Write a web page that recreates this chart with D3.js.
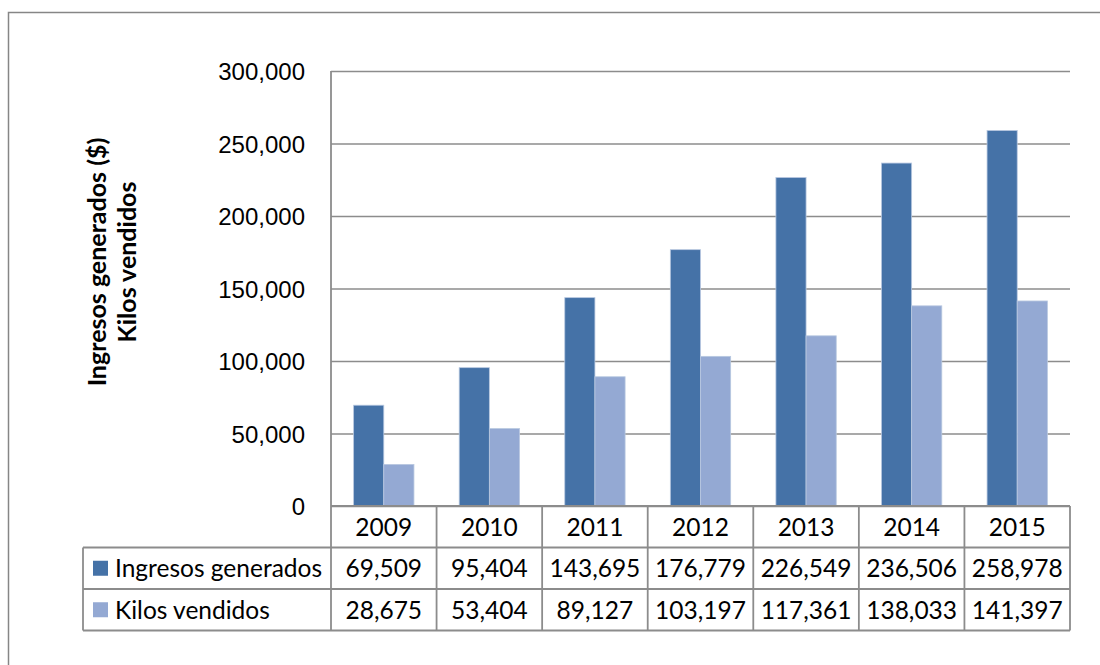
<!DOCTYPE html>
<html>
<head>
<meta charset="utf-8">
<script src="https://cdn.jsdelivr.net/npm/d3@7"></script>
<style>
  body { margin: 0; background: #fff; }
  svg { display: block; font-family: Lato, "Open Sans", sans-serif; }
  .axis text { font-size: 24px; fill: #000; }
  .axis line { stroke: #8c8c8c; stroke-width: 1.5; }
  .axis path { display: none; }
  .cell { font-size: 24.5px; fill: #000; text-anchor: middle; }
</style>
</head>
<body>
<svg id="chart" width="1100" height="665"></svg>
<script>
const years = ['2009', '2010', '2011', '2012', '2013', '2014', '2015'];
const seriesNames = ['Ingresos generados', 'Kilos vendidos'];
const ingresos = [69509, 95404, 143695, 176779, 226549, 236506, 258978];
const kilos = [28675, 53404, 89127, 103197, 117361, 138033, 141397];
const yTicks = [0, 50000, 100000, 150000, 200000, 250000, 300000];
const yTitle = ['Ingresos generados ($)', 'Kilos vendidos'];

const colors = ['#4572a7', '#94a9d3'];
const gridColor = '#8c8c8c';

const svg = d3.select('#chart');
const margin = { left: 331, right: 30, top: 71, bottom: 159 };
const width = 1100, height = 665;
const plotBottom = height - margin.bottom;
const plotRight = width - margin.right;

const rows = seriesNames.map((name, i) => ({ name, values: i === 0 ? ingresos : kilos, color: colors[i] }));

// outer chart border (runs off the frame on the right and bottom)
svg.append('rect')
  .attr('x', 8.5).attr('y', 12.5)
  .attr('width', 1200).attr('height', 800)
  .attr('fill', 'none')
  .attr('stroke', '#868686')
  .attr('stroke-width', 1.5);

const xScale = d3.scaleBand()
  .domain(years)
  .range([margin.left, plotRight]);

const xSub = d3.scaleBand()
  .domain(seriesNames)
  .range([0, xScale.bandwidth()])
  .paddingOuter(0.75);

const yScale = d3.scaleLinear()
  .domain([0, 300000])
  .range([plotBottom, margin.top]);

const yAxis = d3.axisLeft(yScale)
  .tickValues(yTicks)
  .tickFormat(d3.format(','))
  .tickSize(-(plotRight - margin.left))
  .tickPadding(26);

const yAxisG = svg.append('g')
  .attr('class', 'axis')
  .attr('transform', `translate(${margin.left},0)`)
  .call(yAxis);
yAxisG.selectAll('text').attr('dy', '0.36em');

// bars
const barG = svg.append('g');
rows.forEach(r => {
  barG.selectAll(null)
    .data(years.map((y, i) => ({ year: y, value: r.values[i] })))
    .enter().append('rect')
      .attr('x', d => xScale(d.year) + xSub(r.name))
      .attr('y', d => yScale(d.value))
      .attr('width', xSub.bandwidth())
      .attr('height', d => plotBottom - yScale(d.value))
      .attr('fill', r.color)
      .attr('stroke', '#b8c8e0')
      .attr('stroke-width', 0.8);
});

// data table
const rowH = 41.5;
const tableLeft = 83;
const tableG = svg.append('g');
const lineStyle = sel => sel.attr('stroke', gridColor).attr('stroke-width', 1.8).attr('fill', 'none');

// y axis line + left border of year row
tableG.append('line')
  .attr('x1', margin.left).attr('x2', margin.left)
  .attr('y1', margin.top).attr('y2', plotBottom + 3 * rowH)
  .call(lineStyle);

// horizontal lines
[0, 1, 2, 3].forEach(i => {
  tableG.append('line')
    .attr('x1', i === 0 ? margin.left : tableLeft)
    .attr('x2', plotRight)
    .attr('y1', plotBottom + i * rowH).attr('y2', plotBottom + i * rowH)
    .call(lineStyle);
});

// vertical lines
years.forEach(y => {
  tableG.append('line')
    .attr('x1', xScale(y) + xScale.bandwidth()).attr('x2', xScale(y) + xScale.bandwidth())
    .attr('y1', plotBottom).attr('y2', plotBottom + 3 * rowH)
    .call(lineStyle);
});
tableG.append('line')
  .attr('x1', tableLeft).attr('x2', tableLeft)
  .attr('y1', plotBottom + rowH).attr('y2', plotBottom + 3 * rowH)
  .call(lineStyle);

// year header
tableG.selectAll('.year')
  .data(years)
  .enter().append('text')
    .attr('class', 'cell')
    .attr('x', d => xScale(d) + xScale.bandwidth() / 2)
    .attr('y', plotBottom + rowH / 2)
    .attr('dy', '0.36em')
    .text(d => d);

// value rows
rows.forEach((r, ri) => {
  const cy = plotBottom + (ri + 1.5) * rowH;
  tableG.append('rect')
    .attr('x', tableLeft + 10).attr('y', cy - 7.5)
    .attr('width', 15).attr('height', 15)
    .attr('fill', r.color);
  tableG.append('text')
    .attr('class', 'cell')
    .style('text-anchor', 'start')
    .attr('x', tableLeft + 32)
    .attr('y', cy).attr('dy', '0.36em')
    .text(r.name);
  tableG.selectAll(null)
    .data(years.map((y, i) => ({ year: y, value: r.values[i] })))
    .enter().append('text')
      .attr('class', 'cell')
      .attr('x', d => xScale(d.year) + xScale.bandwidth() / 2)
      .attr('y', cy).attr('dy', '0.36em')
      .text(d => d3.format(',')(d.value));
});

// y axis title, two rotated lines
svg.append('text')
  .attr('transform', 'translate(97,262) rotate(-90)')
  .style('font-size', '25px')
  .style('font-weight', 'bold')
  .style('text-anchor', 'middle')
  .selectAll('tspan')
  .data(yTitle)
  .enter().append('tspan')
    .attr('x', 0)
    .attr('dy', (d, i) => i === 0 ? '0.35em' : '1.2em')
    .text(d => d);
</script>
</body>
</html>
